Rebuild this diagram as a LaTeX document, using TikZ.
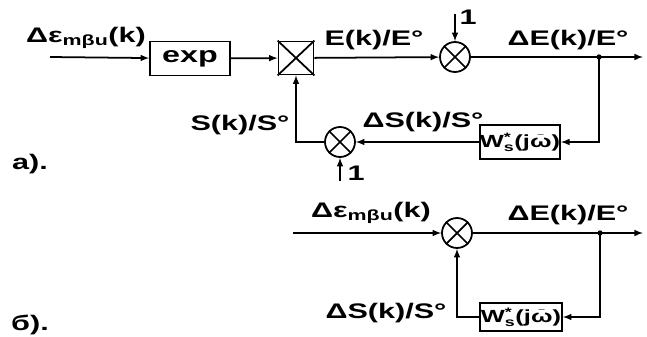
\documentclass[tikz,border=0pt]{standalone}
\usepackage{amsmath}
\usepackage{amssymb}
\usepackage{fontspec}
\setmainfont{Liberation Sans}[FakeStretch=1.45]
\begin{document}
\begin{tikzpicture}[x=0.3mm, y=-0.3mm, line width=1.5pt,
        blk/.style = {draw, minimum width = 24mm, minimum height = 10.2mm, inner sep = 0pt},
        mulbox/.style = {draw, minimum width = 10.5mm, minimum height = 9.9mm, inner sep = 0pt},
        summ/.style = {draw, circle, minimum size = 9mm, inner sep = 0pt},
        lbl/.style = {font = \fontsize{18}{20}\selectfont\bfseries, inner sep = 0pt},
        wtxt/.style = {font = \fontsize{15}{17}\selectfont\bfseries}
    ]
        \useasboundingbox (0,0) rectangle (647,336);
        % a)
        \coordinate (in1) at (50,57);
        \node[blk, font = \fontsize{19}{21}\selectfont\bfseries] (exp) at (190,58.5) {exp};
        \node[mulbox] (mul) at (296,58) {};
        \draw (mul.north west) -- (mul.south east) (mul.north east) -- (mul.south west);
        \node[summ] (s1) at (455,57) {};
        \draw (s1.north west) -- (s1.south east) (s1.north east) -- (s1.south west);
        \coordinate (dot1) at (599,57);
        \coordinate (out1) at (643,57);
        \node[blk, wtxt] (w1) at (520,142)
            {W$_{\text{s}}^{\text{*}}$(j$\bar{\text{ω}}$)};
        \node[summ] (s2) at (340,142) {};
        \draw (s2.north west) -- (s2.south east) (s2.north east) -- (s2.south west);
        \coordinate (one1) at (455,14);
        \coordinate (one2) at (340,181);
        \draw[-latex] (in1) -- (exp);
        \draw[-latex] (exp) -- (mul);
        \draw[-latex] (mul) -- (s1);
        \draw[-latex] (s1) -- (out1);
        \fill (dot1) circle (0.8mm);
        \draw[-latex] (dot1) |- (w1.east);
        \draw[-latex] (w1) -- (s2);
        \draw[-latex] (s2) -| (mul.south);
        \draw[-latex] (one1) -- (s1);
        \draw[-latex] (one2) -- (s2);
        \node[lbl] (lin1) at (86,38) {Δε$_{\text{mβu}}$(k)};
        \node[lbl] (le1) at (374,40) {E(k)/E°};
        \node[lbl] (lde1) at (568,40) {ΔE(k)/E°};
        \node[lbl] (ls1) at (240,125) {S(k)/S°};
        \node[lbl] (lds1) at (423,122) {ΔS(k)/S°};
        \node[lbl] (lone1) at (468,17) {1};
        \node[lbl] (lone2) at (356,173) {1};
        \node[lbl] (la) at (30,164) {а).};
        % б)
        \coordinate (in2) at (293,233);
        \node[summ] (s3) at (457,233) {};
        \draw (s3.north west) -- (s3.south east) (s3.north east) -- (s3.south west);
        \coordinate (dot2) at (600,233);
        \coordinate (out2) at (643,233);
        \node[blk, wtxt, minimum width = 24.6mm, minimum height = 8.4mm] (w2) at (521,317)
            {W$_{\text{s}}^{\text{*}}$(j$\bar{\text{ω}}$)};
        \draw[-latex] (in2) -- (s3);
        \draw[-latex] (s3) -- (out2);
        \fill (dot2) circle (0.8mm);
        \draw[-latex] (dot2) |- (w2.east);
        \draw[-latex] (w2.west) -| (s3.south);
        \node[lbl] (lin2) at (371,213) {Δε$_{\text{mβu}}$(k)};
        \node[lbl] (lde2) at (568,215) {ΔE(k)/E°};
        \node[lbl] (lds2) at (386,313) {ΔS(k)/S°};
        \node[lbl] (lb) at (30,325) {б).};
    \end{tikzpicture}
\end{document}
